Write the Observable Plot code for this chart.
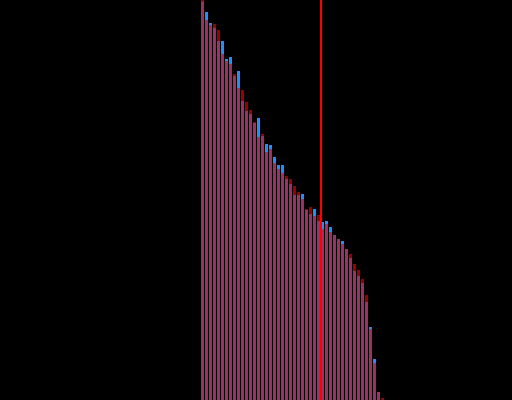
<!DOCTYPE html>
<html>
<head>
<meta charset="utf-8">
<script src="https://cdn.jsdelivr.net/npm/d3@7"></script>
<script src="https://cdn.jsdelivr.net/npm/@observablehq/plot@0.6"></script>
<style>
  html, body { margin: 0; padding: 0; background: #000; }
  #chart { width: 512px; height: 400px; overflow: hidden; }
</style>
</head>
<body>
<div id="chart"></div>
<script>
// Series A (dark red) and series B (blue), sorted descending; overlap drawn in pink
const seriesA = [100, 95, 93.75, 94, 92.5, 86.5, 84.75, 84, 81.5, 78,
  77.5, 74.5, 72.5, 69.5, 65.75, 66.5, 62, 62.75, 59.25, 57.75,
  56.75, 56, 55.25, 53.5, 52, 50.25, 47.75, 48.25, 46, 46.25,
  42.75, 44, 42, 41.25, 40.25, 39, 37.75, 36.5, 34, 32.5,
  30.25, 26.25, 17.75, 9.25, 2, 0.5];
const seriesB = [99.6, 97, 94.25, 93, 89.75, 89.75, 85.25, 85.75, 81, 82.25,
  74.75, 72.25, 71.5, 69.25, 70.5, 66, 64, 63.75, 60.75, 58.75,
  58.75, 55.25, 54, 51.25, 51.25, 51.5, 47.5, 46.5, 47.75, 44.75,
  44.5, 44.75, 43.25, 41.25, 40.25, 39.75, 37.75, 35.5, 32.25, 31,
  29.25, 24.5, 18.25, 10.25, 2, 0];
const markerIndex = 29.875; // red reference line position

const rows = seriesA.map((a, i) => ({i, a, b: seriesB[i], m: Math.min(a, seriesB[i])}));

const chart = Plot.plot({
  width: 512,
  height: 400,
  marginLeft: 201,
  marginRight: 127,
  marginTop: 0,
  marginBottom: 0,
  style: {background: "#000"},
  x: {type: "linear", domain: [0, seriesA.length], axis: null},
  y: {domain: [0, 100], axis: null},
  marks: [
    Plot.rectY(rows, {x1: "i", x2: d => d.i + 1, y: "b", fill: "#1e8fff", insetRight: 1}),
    Plot.rectY(rows, {x1: "i", x2: d => d.i + 1, y: "a", fill: "#990000", insetRight: 1}),
    Plot.rectY(rows, {x1: "i", x2: d => d.i + 1, y: "m", fill: "#993366", insetRight: 1}),
    Plot.ruleX([markerIndex], {stroke: "#ff0000", strokeWidth: 2})
  ]
});
document.getElementById("chart").appendChild(chart);
</script>
</body>
</html>
